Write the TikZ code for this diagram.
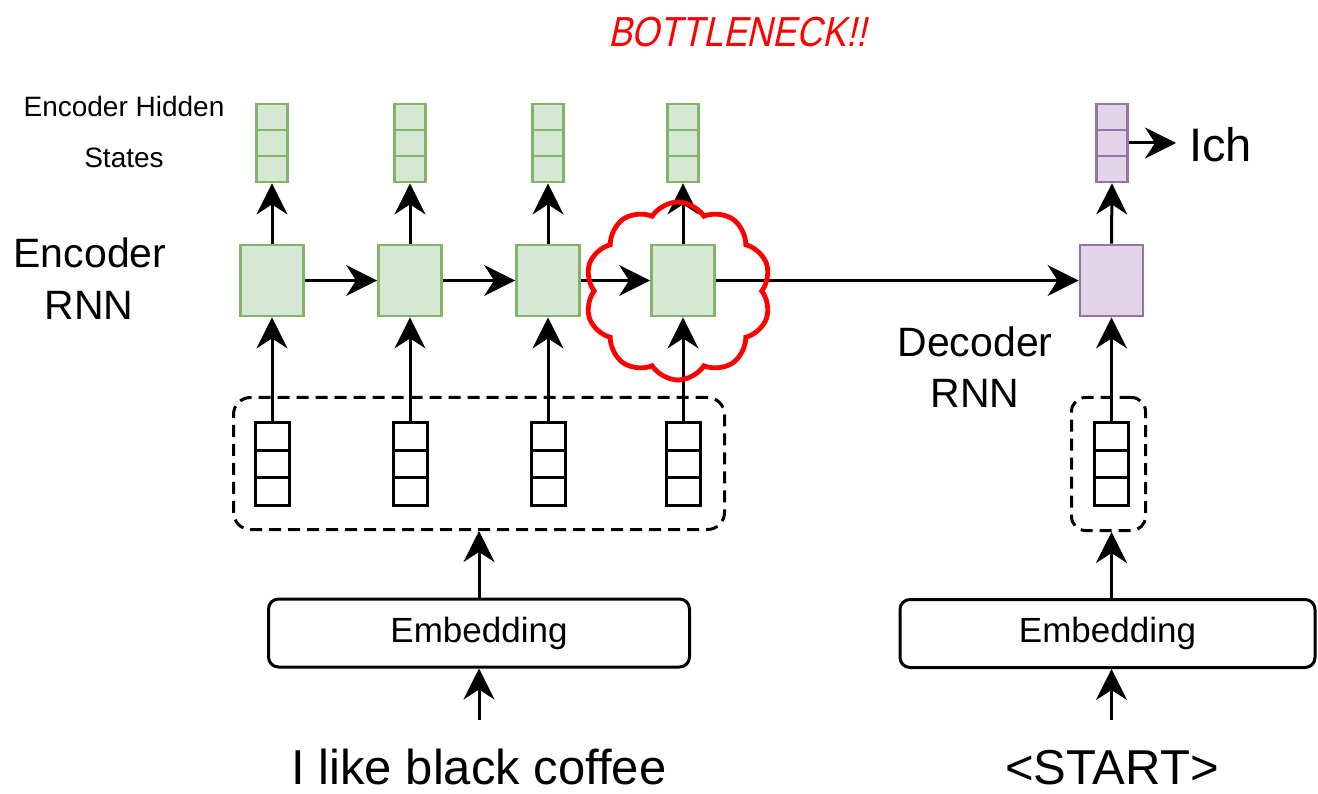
\documentclass[tikz,border=0pt]{standalone}
\usepackage{fontspec}
\setmainfont{Liberation Sans}
\newfontfamily\bnfont[FakeStretch=0.85,FakeSlant=0.22]{Liberation Sans}
\usetikzlibrary{arrows.meta,calc,shapes.symbols}
\definecolor{gfill}{HTML}{D5E8D4}
\definecolor{gline}{HTML}{82B366}
\definecolor{pfill}{HTML}{E1D5E7}
\definecolor{pline}{HTML}{9673A6}
\definecolor{bnred}{HTML}{FF0000}

\tikzset{
  % a vector drawn as three stacked cells
  thirds/.style 2 args={path picture={
    \draw[#1, line width=#2]
      ($(path picture bounding box.north west)!1/3!(path picture bounding box.south west)$) --
      ($(path picture bounding box.north east)!1/3!(path picture bounding box.south east)$)
      ($(path picture bounding box.north west)!2/3!(path picture bounding box.south west)$) --
      ($(path picture bounding box.north east)!2/3!(path picture bounding box.south east)$);}},
  hidvec/.style={draw=gline, fill=gfill, line width=2.8pt, inner sep=0pt,
    minimum width=31pt, minimum height=78pt, thirds={gline}{2.8pt}},
  outvec/.style={draw=pline, fill=pfill, line width=2.8pt, inner sep=0pt,
    minimum width=31pt, minimum height=78pt, thirds={pline}{2.8pt}},
  embvec/.style={draw=black, fill=white, line width=3pt, inner sep=0pt,
    minimum width=34pt, minimum height=83pt, thirds={black}{3pt}},
  rnncell/.style={draw=gline, fill=gfill, line width=2.8pt, inner sep=0pt,
    minimum width=63pt, minimum height=71pt},
  deccell/.style={draw=pline, fill=pfill, line width=2.8pt, inner sep=0pt,
    minimum width=63pt, minimum height=71pt},
  groupbox/.style={draw=black, line width=3pt, dash pattern=on 12pt off 7pt,
    rounded corners=17pt, inner sep=0pt},
  embbox/.style={draw=black, line width=3pt, rounded corners=10pt, inner sep=0pt,
    minimum width=421pt, minimum height=68pt,
    font=\fontsize{35}{42}\selectfont},
  arr/.style={line width=3pt, -{Stealth[length=31pt, width=31pt, inset=10pt]}},
  lbl/.style={anchor=base, inner sep=0pt},
}

\begin{document}
\begin{tikzpicture}[x=1pt, y=-1pt]
\useasboundingbox (0,0) rectangle (1318,794);

% ---- encoder ----
\foreach \i/\x in {1/272, 2/410, 3/548, 4/683}{
  \node[hidvec] (h\i) at (\x,143) {};
  \node[rnncell] (r\i) at (\x,280.5) {};
  \node[embvec] (e\i) at (\x,464) {};
}
\node[groupbox, minimum width=491pt, minimum height=132pt] (eg) at (479,463.5) {};
\node[embbox] (emb1) at (479,633) {Embedding};
\coordinate (in1) at (479,720);
\node[lbl, font=\fontsize{49}{58}\selectfont] (src) at (479,784) {I like black coffee};

% ---- decoder ----
\node[outvec] (hd) at (1112,143) {};
\node[deccell] (rd) at (1111.5,280.5) {};
\node[embvec] (ed) at (1111.5,464) {};
\node[groupbox, rounded corners=14pt, minimum width=74pt, minimum height=133pt] (dg) at (1108.5,464) {};
\node[embbox, minimum width=415pt] (emb2) at (1107.5,633.5) {Embedding};
\coordinate (in2) at (1111.5,720);
\node[lbl, font=\fontsize{49}{58}\selectfont] (tgt) at (1112,784) {<START>};
\node[anchor=base west, inner sep=0pt, inner xsep=13pt, font=\fontsize{47}{56}\selectfont] (ich) at (1176,162) {Ich};

% ---- labels ----
\node[lbl, font=\fontsize{28}{34}\selectfont] (lh1) at (124,117) {Encoder Hidden};
\node[lbl, font=\fontsize{28}{34}\selectfont] (lh2) at (124,168) {States};
\node[lbl, font=\fontsize{41}{50}\selectfont] (le1) at (90,268) {Encoder};
\node[lbl, font=\fontsize{41}{50}\selectfont] (le2) at (89,320) {RNN};
\node[lbl, font=\fontsize{41}{50}\selectfont] (ld1) at (975,357) {Decoder};
\node[lbl, font=\fontsize{41}{50}\selectfont] (ld2) at (975,407) {RNN};
\node[lbl, text=bnred, font=\bnfont\fontsize{42}{50}\selectfont] (bn) at (737,47) {BOTTLENECK!!};

% ---- connectors ----
\foreach \i in {1,2,3,4}{
  \draw[arr] (e\i.north) -- (r\i.south);
  \draw[arr] (r\i.north) -- (h\i.south);
}
\draw[arr] (r1.east) -- (r2.west);
\draw[arr] (r2.east) -- (r3.west);
\draw[arr] (r3.east) -- (r4.west);
\draw[arr] (r4.east) -- (rd.west);
\draw[arr] (emb1.north) -- (eg.south);
\draw[arr] (in1) -- (emb1.south);

\draw[arr] (ed.north) -- (rd.south);
\draw[arr] (rd.north) -- (hd.south);
\draw[arr] (dg.south -| ed.south) ++(0,66) coordinate (dstart) -- (dg.south -| ed.south);
\draw[arr] (in2) -- (in2 |- emb2.south);
\draw[arr] (hd.east) -- (hd.east -| ich.west);

% ---- bottleneck cloud ----
\node[cloud, draw=bnred, line width=4.8pt, cloud puffs=10, cloud puff arc=115,
      minimum width=186pt, minimum height=178pt, aspect=1] (cl) at (678,291) {};
\end{tikzpicture}
\end{document}
